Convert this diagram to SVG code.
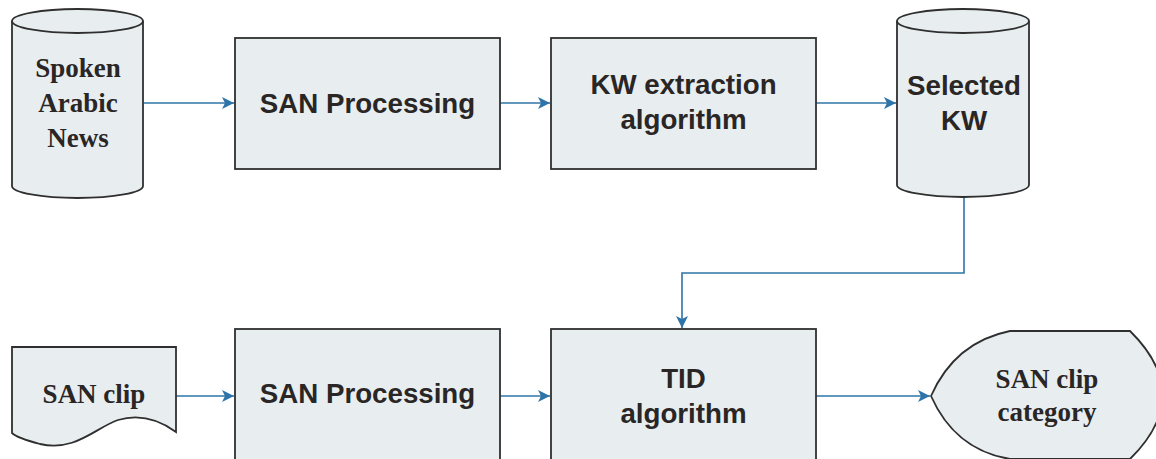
<svg xmlns="http://www.w3.org/2000/svg" width="1156" height="459" viewBox="0 0 1156 459">
<defs>
<style>
.shape{fill:#e8eef0;stroke:#2f2f2f;stroke-width:1.8}
.conn{fill:none;stroke:#2e74a8;stroke-width:1.6}
.sans{font-family:"Liberation Sans",Arial,sans-serif;font-weight:bold;font-size:27.7px;fill:#2a2626;text-anchor:middle}
.serif{font-family:"Liberation Serif","Times New Roman",serif;font-weight:bold;font-size:27px;fill:#2a2626;text-anchor:middle}
</style>
<marker id="arr" markerUnits="userSpaceOnUse" markerWidth="13" markerHeight="12" refX="12" refY="6" orient="auto">
<path d="M0,0 L12,6 L0,12 L3,6 z" fill="#2e74a8"/>
</marker>
</defs>
<rect width="1156" height="459" fill="#ffffff"/>
<g id="connectors">
<line class="conn" x1="144" y1="103" x2="234" y2="103" marker-end="url(#arr)"/>
<line class="conn" x1="500" y1="103" x2="550" y2="103" marker-end="url(#arr)"/>
<line class="conn" x1="816" y1="103" x2="896" y2="103" marker-end="url(#arr)"/>
<polyline class="conn" points="964,197 964,273 682,273 682,328" marker-end="url(#arr)"/>
<line class="conn" x1="176" y1="396" x2="234" y2="396" marker-end="url(#arr)"/>
<line class="conn" x1="500" y1="396" x2="550" y2="396" marker-end="url(#arr)"/>
<line class="conn" x1="816" y1="396" x2="930" y2="396" marker-end="url(#arr)"/>
</g>
<g id="spoken-arabic-news">
<path class="shape" d="M12,21 L12,186 A65.5,12 0 0 0 143,186 L143,21"/>
<ellipse class="shape" cx="77.5" cy="21" rx="65.5" ry="12"/>
<text class="serif" x="78" y="77">Spoken</text>
<text class="serif" x="78" y="112">Arabic</text>
<text class="serif" x="78" y="147">News</text>
</g>
<g id="san-processing-1">
<rect class="shape" x="235" y="38" width="265" height="131"/>
<text class="sans" x="367.5" y="113">SAN Processing</text>
</g>
<g id="kw-extraction">
<rect class="shape" x="551" y="38" width="265" height="131"/>
<text class="sans" x="683.5" y="94">KW extraction</text>
<text class="sans" x="683.5" y="129">algorithm</text>
</g>
<g id="selected-kw">
<path class="shape" d="M897,21 L897,185 A66,12 0 0 0 1029,185 L1029,21"/>
<ellipse class="shape" cx="963" cy="21" rx="66" ry="12"/>
<text class="sans" x="964" y="95">Selected</text>
<text class="sans" x="964" y="130">KW</text>
</g>
<g id="san-clip">
<path class="shape" d="M12,347 L176,347 L176,432 C165,424 145,412 118,420 C95,428 75,452 40,444 C25,440 15,436 12,433 Z"/>
<text class="serif" x="94" y="403">SAN clip</text>
</g>
<g id="san-processing-2">
<rect class="shape" x="235" y="329" width="265" height="140"/>
<text class="sans" x="367.5" y="403">SAN Processing</text>
</g>
<g id="tid-algorithm">
<rect class="shape" x="551" y="329" width="265" height="140"/>
<text class="sans" x="683.5" y="388">TID</text>
<text class="sans" x="683.5" y="423">algorithm</text>
</g>
<g id="san-clip-category">
<path class="shape" d="M931,396 Q955,342 1010,331 L1130,331 Q1195,395 1130,459 L1010,459 Q955,450 931,396 Z"/>
<text class="serif" x="1047" y="388">SAN clip</text>
<text class="serif" x="1047" y="421">category</text>
</g>
</svg>
